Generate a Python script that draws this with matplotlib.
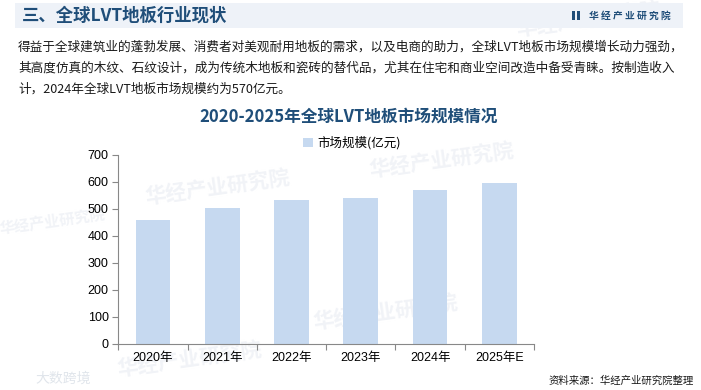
import matplotlib.pyplot as plt
from matplotlib.patches import Rectangle

# Data
years = ['2020年', '2021年', '2022年', '2023年', '2024年', '2025年E']
market_size = [460, 503, 533, 540, 570, 595]

cn = ['Noto Sans CJK SC', 'DejaVu Sans']
num = ['Liberation Sans', 'Noto Sans CJK SC']
title_blue = '#1f4e79'
bar_color = '#c6d9f0'

fig = plt.figure(figsize=(7.01, 3.9), dpi=100)

# watermarks (very faint)
wm_pos = [(0.31, 0.52), (0.63, 0.59), (0.55, 0.20), (0.27, 0.08), (0.84, 0.95)]
for x, y in wm_pos:
    fig.text(x, y, '华经产业研究院', family=cn, fontsize=15, fontweight='bold',
             color='#f1f3f7', rotation=8, ha='center', va='center', zorder=-5)
fig.text(0.075, 0.43, '华经产业研究院', family=cn, fontsize=11, fontweight='bold',
         color='#f1f3f7', rotation=8, ha='center', va='center', zorder=-5)
fig.text(0.09, 0.03, '大数跨境', family=cn, fontsize=10, color='#e0e5eb',
         ha='center', va='center', zorder=-5)

# header band
fig.patches.append(Rectangle((15 / 701, 1 - 28 / 390), (683 - 15) / 701, 25 / 390,
                             transform=fig.transFigure, facecolor='#eef2f8',
                             edgecolor='none', zorder=-4))
fig.text(22 / 701, 1 - 15.5 / 390, '三、全球LVT地板行业现状', family=cn, fontsize=12.5,
         fontweight='bold', color=title_blue, va='center')
fig.patches.append(Rectangle((572 / 701, 1 - 20 / 390), 3 / 701, 9 / 390,
                             transform=fig.transFigure, facecolor=title_blue, zorder=2))
fig.patches.append(Rectangle((576.5 / 701, 1 - 20 / 390), 3 / 701, 9 / 390,
                             transform=fig.transFigure, facecolor=title_blue, zorder=2))
fig.text(589 / 701, 1 - 15.5 / 390, '华 经 产 业 研 究 院', family=cn, fontsize=7,
         fontweight='bold', color=title_blue, va='center')

# paragraph
para = ['得益于全球建筑业的蓬勃发展、消费者对美观耐用地板的需求，以及电商的助力，全球LVT地板市场规模增长动力强劲，',
        '其高度仿真的木纹、石纹设计，成为传统木地板和瓷砖的替代品，尤其在住宅和商业空间改造中备受青睐。按制造收入',
        '计，2024年全球LVT地板市场规模约为570亿元。']
for i, line in enumerate(para):
    fig.text(18 / 701, 1 - (47 + i * 21) / 390, line, family=cn, fontsize=9.1,
             color='#1a1a1a', va='center')

# chart title
fig.text(349 / 701, 1 - 117 / 390, '2020-2025年全球LVT地板市场规模情况', family=cn,
         fontsize=12, fontweight='bold', color=title_blue, ha='center', va='center')

ax = fig.add_axes([118.3 / 701, 1 - 344 / 390, (534 - 118.3) / 701, (344 - 154.7) / 390])
ax.set_facecolor('none')
ax.bar(range(len(years)), market_size, width=0.5, color=bar_color, label='市场规模(亿元)', zorder=2)
ax.set_xlim(-0.5, len(years) - 0.5)
ax.set_ylim(0, 700)
ax.set_yticks(range(0, 701, 100))
ax.set_xticks([i - 0.5 for i in range(len(years) + 1)], minor=False)
ax.set_xticklabels([])
ax.set_xticks(range(len(years)), minor=True)
ax.set_xticklabels(years, minor=True, family=num, fontsize=9)
ax.tick_params(axis='x', which='minor', length=0, pad=6)
ax.tick_params(axis='x', which='major', length=4, color='#888888', direction='out')
ax.tick_params(axis='y', length=4, color='#888888', labelsize=9, pad=3)
for lab in ax.get_yticklabels():
    lab.set_family(num)
for s in ['top', 'right']:
    ax.spines[s].set_visible(False)
for s in ['left', 'bottom']:
    ax.spines[s].set_color('#888888')
    ax.spines[s].set_linewidth(0.8)

ax.legend(loc='center', bbox_to_anchor=(352 / 701, 1 - 143 / 390), bbox_transform=fig.transFigure,
          frameon=False, prop={'family': cn, 'size': 9}, handlelength=0.8, handleheight=0.8,
          handletextpad=0.4)

fig.text(694 / 701, 1 - 381 / 390, '资料来源：华经产业研究院整理', family=cn, fontsize=7.5,
         color='#1a1a1a', ha='right', va='center')

fig.savefig('out.png', dpi=100)
